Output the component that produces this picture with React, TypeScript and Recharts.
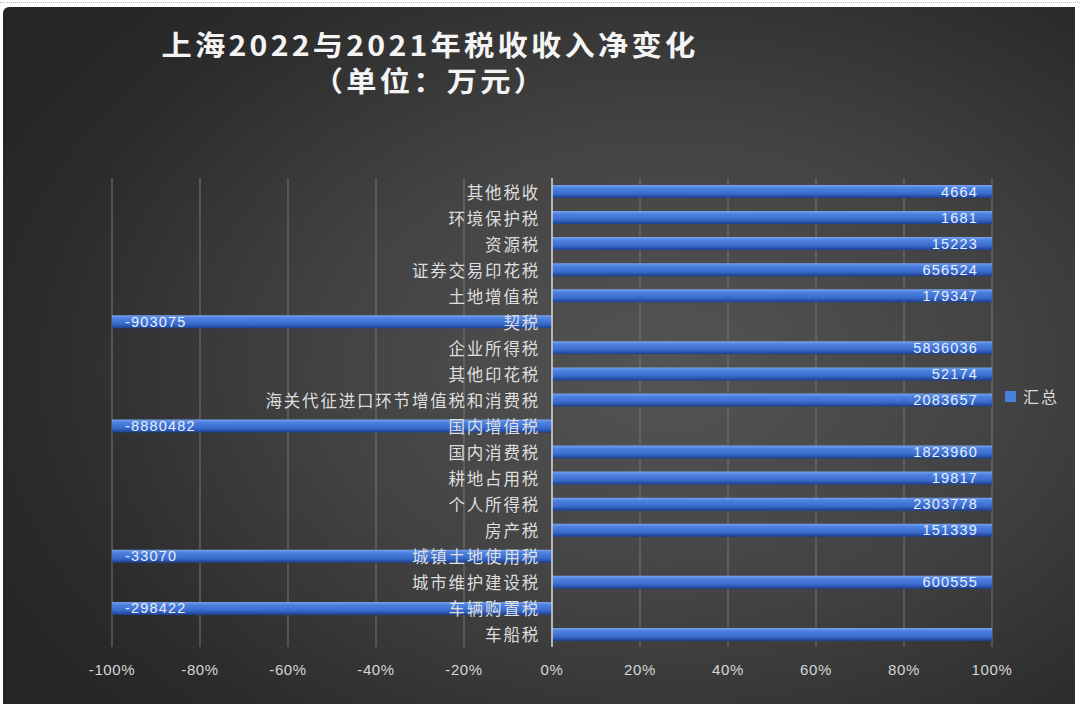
import React from 'react';
import { BarChart, Bar, XAxis, YAxis, CartesianGrid, ReferenceLine, LabelList } from 'recharts';

// Categories, top to bottom as shown
const categories = [
  '其他税收', '环境保护税', '资源税', '证券交易印花税', '土地增值税', '契税',
  '企业所得税', '其他印花税', '海关代征进口环节增值税和消费税', '国内增值税',
  '国内消费税', '耕地占用税', '个人所得税', '房产税', '城镇土地使用税',
  '城市维护建设税', '车辆购置税', '车船税',
];
// Net change (万元); the last label is covered in the reference, value estimated
const values = [
  4664, 1681, 15223, 656524, 179347, -903075,
  5836036, 52174, 2083657, -8880482,
  1823960, 19817, 2303778, 151339, -33070,
  600555, -298422, 20000,
];
const hiddenValueLabels = ['车船税'];
const xTicks = [-100, -80, -60, -40, -20, 0, 20, 40, 60, 80, 100];
const seriesName = '汇总';

const data = categories.map((name, i) => ({
  name,
  raw: values[i],
  pct: values[i] >= 0 ? 100 : -100,
}));

const FONT = '"Noto Sans CJK SC", "Noto Sans", sans-serif';

const barBounds = (p: any) => {
  const x = Number(p.x), w = Number(p.width);
  return { left: Math.min(x, x + w), right: Math.max(x, x + w), cy: Number(p.y) + Number(p.height) / 2 };
};

const NameLabel = (p: any) => {
  const row = data.find((d) => d.name === p.value);
  if (!row) return null;
  const { left, right, cy } = barBounds(p);
  const zero = row.pct >= 0 ? left : right;
  return (
    <text x={zero - 12} y={cy} textAnchor="end" dominantBaseline="central"
      fill="#dedede" fontSize={16.5} letterSpacing={1.8} fontFamily={FONT}>
      {p.value}
    </text>
  );
};

const ValueLabel = (p: any) => {
  const row = data[p.index];
  if (!row || hiddenValueLabels.includes(row.name)) return null;
  const { left, right, cy } = barBounds(p);
  const pos = row.raw >= 0;
  return (
    <text x={pos ? right - 14 : left + 13} y={cy} textAnchor={pos ? 'end' : 'start'}
      dominantBaseline="central" fill="#e8eefc" fontSize={14.5} letterSpacing={1.2}
      fontFamily='"Liberation Sans", Arial, sans-serif'>
      {row.raw}
    </text>
  );
};

export default function App() {
  return (
    <div style={{ position: 'absolute', left: 0, top: 0, width: 1080, height: 704, background: '#fff', overflow: 'hidden' }}>
      <div style={{ position: 'absolute', left: 0, top: 2, width: 1080, borderTop: '1px dotted #bbb' }} />
      <div style={{
        position: 'absolute', left: 3, top: 7, width: 1072, height: 697,
        background: 'radial-gradient(ellipse 70% 75% at 62% 52%, #545454 0%, #434343 45%, #2b2b2b 85%, #262626 100%)',
        borderTopLeftRadius: 6,
      }} />
      <div style={{
        position: 'absolute', left: 0, top: 26, width: 860, textAlign: 'center', color: '#f4f4f4',
        fontFamily: FONT, fontWeight: 700, fontSize: 28, lineHeight: '36px', letterSpacing: 3,
        transform: 'scaleX(1.08)',
      }}>
        <div>上海2022与2021年税收收入净变化</div>
        <div>（单位：万元）</div>
      </div>
      <div style={{ position: 'absolute', left: 0, top: 0 }}>
        <BarChart width={1080} height={704} data={data} layout="vertical"
          margin={{ top: 178, right: 88, bottom: 27, left: 112 }} barCategoryGap={0}>
          <defs>
            <linearGradient id="barFill" x1="0" y1="0" x2="0" y2="1">
              <stop offset="0%" stopColor="#79a3ec" />
              <stop offset="22%" stopColor="#4d82e0" />
              <stop offset="65%" stopColor="#3a6cce" />
              <stop offset="100%" stopColor="#1d3f8c" />
            </linearGradient>
          </defs>
          <CartesianGrid horizontal={false} stroke="#767676" strokeWidth={1} />
          <XAxis type="number" domain={[-100, 100]} ticks={xTicks} interval={0}
            tickFormatter={(v: number) => `${v}%`} axisLine={false} tickLine={false}
            tickSize={0} tickMargin={17} height={30}
            tick={{ fill: '#d6d6d6', fontSize: 15, fontFamily: '"Liberation Sans", Arial, sans-serif', letterSpacing: 0.6 }} />
          <YAxis type="category" dataKey="name" hide />
          <Bar dataKey="pct" name={seriesName} fill="url(#barFill)" barSize={13} isAnimationActive={false}>
            <LabelList dataKey="name" content={<NameLabel />} />
            <LabelList dataKey="raw" content={<ValueLabel />} />
          </Bar>
          <ReferenceLine x={0} stroke="#d4d4d4" strokeWidth={1.5} />
        </BarChart>
      </div>
      <div style={{ position: 'absolute', left: 1005, top: 384, display: 'flex', alignItems: 'center', fontFamily: FONT }}>
        <span style={{ width: 11, height: 11, background: '#4a7ee0', display: 'inline-block', marginRight: 7 }} />
        <span style={{ color: '#dcdcdc', fontSize: 16, letterSpacing: 2 }}>{seriesName}</span>
      </div>
    </div>
  );
}
